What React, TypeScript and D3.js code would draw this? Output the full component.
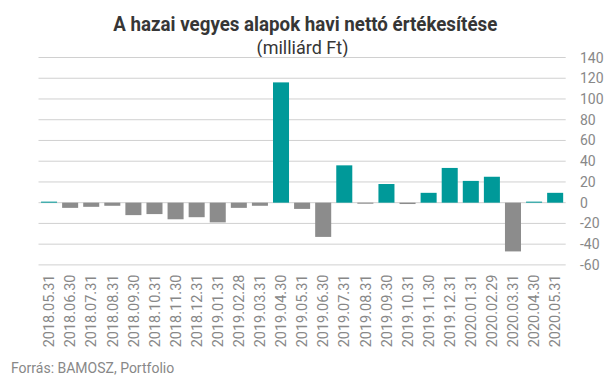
import React from "react";
import * as d3 from "d3";

const categories = [
  "2018.05.31","2018.06.30","2018.07.31","2018.08.31","2018.09.30","2018.10.31","2018.11.30","2018.12.31",
  "2019.01.31","2019.02.28","2019.03.31","2019.04.30","2019.05.31","2019.06.30","2019.07.31","2019.08.31",
  "2019.09.30","2019.10.31","2019.11.30","2019.12.31","2020.01.31","2020.02.29","2020.03.31","2020.04.30","2020.05.31",
];
const values = [1, -5, -4, -3, -12, -11, -16, -14, -19, -5, -3, 116, -6, -33, 36, -1, 18, -1.3, 9.5, 33.5, 21, 25, -47, 1, 9.5];
const yTicks = [-60, -40, -20, 0, 20, 40, 60, 80, 100, 120, 140];

const W = 611, H = 378;
const left = 38.5, right = 565.7, top = 57.5, bottom = 264.9;

export default function App() {
  const x = d3.scaleBand<string>().domain(categories).range([left, right]).paddingInner(0.24).paddingOuter(0.12);
  const y = d3.scaleLinear().domain([-60, 140]).range([bottom, top]);
  const font = "Roboto, sans-serif";
  return (
    <svg width={W} height={H} style={{ position: "absolute", left: 0, top: 0, background: "#fff" }}>
      <text x={305.3} y={31} textAnchor="middle" fontFamily={font} fontWeight="bold" fontSize={20}
        fill="#363636" textLength={384} lengthAdjust="spacingAndGlyphs">A hazai vegyes alapok havi nettó értékesítése</text>
      <text x={302.5} y={54} textAnchor="middle" fontFamily={font} fontSize={18} fill="#363636">(milliárd Ft)</text>
      {yTicks.map(t => (
        <g key={t}>
          <line x1={left} x2={right} y1={y(t)} y2={y(t)} stroke="#d0d0d0" strokeWidth={1} />
          <text x={580} y={y(t) + 5} fontFamily={font} fontSize={14} fill="#888">{t}</text>
        </g>
      ))}
      {values.map((v, i) => (
        <rect key={i} x={x(categories[i])} width={x.bandwidth()}
          y={Math.min(y(v), y(0))} height={Math.max(Math.abs(y(v) - y(0)), 1)}
          fill={v >= 0 ? "#009999" : "#8c8c8c"} />
      ))}
      {categories.map(c => {
        const cx = (x(c) as number) + x.bandwidth() / 2 + 5.2;
        return (
          <text key={c} transform={`translate(${cx},274.5) rotate(-90)`} textAnchor="end"
            fontFamily={font} fontSize={14.5} fill="#888">{c}</text>
        );
      })}
      <text x={11} y={373} fontFamily={font} fontSize={14} fill="#888">Forrás: BAMOSZ, Portfolio</text>
    </svg>
  );
}
